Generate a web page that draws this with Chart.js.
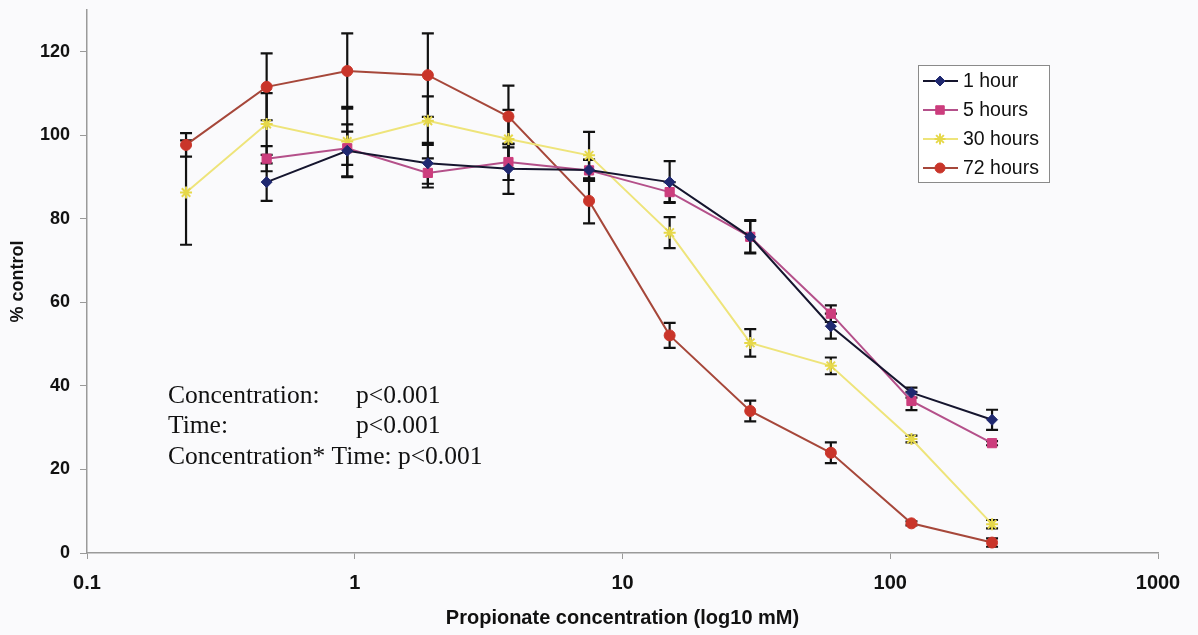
<!DOCTYPE html>
<html>
<head>
<meta charset="utf-8">
<script src="https://cdn.jsdelivr.net/npm/chart.js@4/dist/chart.umd.min.js"></script>
<style>
  html,body{margin:0;padding:0;background:#fafafc;}
  #wrap{width:1198px;height:635px;position:relative;}
</style>
</head>
<body>
<div id="wrap"><canvas id="c" width="1198" height="635"></canvas></div>
<script>
// ---- data ----
const concentrations = [0.234375, 0.46875, 0.9375, 1.875, 3.75, 7.5, 15, 30, 60, 120, 240];
const xTickValues = [0.1, 1, 10, 100, 1000];
const xTickLabels = ["0.1", "1", "10", "100", "1000"];
const yTickValues = [0, 20, 40, 60, 80, 100, 120];
const seriesNames = ["1 hour", "5 hours", "30 hours", "72 hours"];
const hour1 =    [null, 88.8, 96.3, 93.3, 92.0, 91.7, 88.8, 75.7, 54.3, 38.4, 31.9];
const hour1Err = [null, 4.5, 6.3, 4.9, 6.0, 2.5, 5.0, 4.0, 3.0, 1.2, 2.4];
const hours5 =    [null, 94.4, 96.9, 91.0, 93.6, 91.6, 86.4, 75.7, 57.3, 36.4, 26.3];
const hours5Err = [null, 3.0, 4.0, 3.5, 4.3, 2.5, 2.4, 3.8, 2.0, 2.2, 0.5];
const hours30 =    [86.3, 102.7, 98.5, 103.5, 99.1, 95.2, 76.7, 50.3, 44.8, 27.3, 6.9];
const hours30Err = [12.5, 7.4, 8.3, 5.8, 7.0, 5.6, 3.7, 3.3, 2.0, 0.8, 1.0];
const hours72 =    [97.7, 111.6, 115.4, 114.4, 104.5, 84.3, 52.1, 34.0, 24.0, 7.1, 2.5];
const hours72Err = [2.8, 8.0, 9.0, 10.0, 7.4, 5.4, 3.0, 2.5, 2.5, 0.5, 1.0];
const statLines = [
  ["Concentration:", "p<0.001"],
  ["Time:", "p<0.001"],
  ["Concentration* Time: p<0.001", ""]
];

const styles = [
  {line:'#15152e', fill:'#1f2870', ps:'rectRot', r:5.5},
  {line:'#b4508a', fill:'#cc3d7d', ps:'rect', r:6.5},
  {line:'#eee47a', fill:'#e6d84a', ps:'star', r:6},
  {line:'#a6473a', fill:'#c9352a', ps:'circle', r:5.5}
];
const values = [hour1, hours5, hours30, hours72];
const errors = [hour1Err, hours5Err, hours30Err, hours72Err];

const datasets = values.map((v,k)=>({
  label: seriesNames[k],
  data: concentrations.map((c,i)=>({x:c, y:v[i], e:errors[k][i]})).filter(p=>p.y!==null),
  borderColor: styles[k].line,
  backgroundColor: styles[k].fill,
  pointBackgroundColor: styles[k].fill,
  pointBorderColor: styles[k].fill,
  pointBorderWidth: styles[k].ps==='star' ? 2 : 1,
  pointStyle: styles[k].ps,
  pointRadius: styles[k].r,
  borderWidth: 2,
  tension: 0,
  fill: false
}));

const errorBars = {
  id:'errorBars',
  beforeDatasetsDraw(chart){
    const ctx = chart.ctx, xs = chart.scales.x, ys = chart.scales.y;
    ctx.save();
    ctx.strokeStyle = '#111';
    ctx.lineWidth = 2.2;
    chart.data.datasets.forEach(ds=>{
      ds.data.forEach(p=>{
        if(p.e==null) return;
        const x = xs.getPixelForValue(p.x);
        const y1 = ys.getPixelForValue(p.y + p.e);
        const y2 = ys.getPixelForValue(p.y - p.e);
        ctx.beginPath();
        ctx.moveTo(x, y1); ctx.lineTo(x, y2);
        ctx.moveTo(x-6, y1); ctx.lineTo(x+6, y1);
        ctx.moveTo(x-6, y2); ctx.lineTo(x+6, y2);
        ctx.stroke();
      });
    });
    ctx.restore();
  }
};

const customLegend = {
  id:'customLegend',
  afterDraw(chart){
    const ctx = chart.ctx;
    ctx.save();
    const bx = 918, by = 65, bw = 131, bh = 117;
    ctx.fillStyle = '#ffffff';
    ctx.fillRect(bx, by, bw, bh);
    ctx.strokeStyle = '#8a8a8a';
    ctx.lineWidth = 1;
    ctx.strokeRect(bx+0.5, by+0.5, bw, bh);
    ctx.font = '19.5px "Liberation Sans", Arial, sans-serif';
    ctx.textBaseline = 'middle';
    chart.data.datasets.forEach((ds,i)=>{
      const y = 81 + i*29;
      ctx.strokeStyle = ds.borderColor;
      ctx.lineWidth = 2;
      ctx.beginPath(); ctx.moveTo(923, y); ctx.lineTo(958, y); ctx.stroke();
      ctx.fillStyle = ds.pointBackgroundColor;
      ctx.strokeStyle = ds.pointBorderColor;
      ctx.lineWidth = ds.pointBorderWidth;
      Chart.helpers.drawPoint(ctx, {pointStyle: ds.pointStyle, radius: ds.pointRadius - 0.5, rotation: 0, borderWidth: ds.pointBorderWidth}, 940, y);
      ctx.fillStyle = '#111';
      ctx.fillText(ds.label, 963, y+1);
    });
    ctx.restore();
  }
};

const stats = {
  id:'stats',
  afterDraw(chart){
    const ctx = chart.ctx;
    ctx.save();
    ctx.font = '25.5px "Liberation Serif", "Times New Roman", serif';
    ctx.fillStyle = '#111';
    ctx.textBaseline = 'middle';
    statLines.forEach((l,i)=>{
      const y = 396 + i*30.5;
      ctx.fillText(l[0], 168, y);
      if(l[1]) ctx.fillText(l[1], 356, y);
    });
    ctx.restore();
  }
};

new Chart(document.getElementById('c'), {
  type:'line',
  data:{datasets},
  plugins:[errorBars, customLegend, stats],
  options:{
    responsive:false,
    animation:false,
    layout:{padding:{left:0, right:40, top:10, bottom:0}},
    plugins:{legend:{display:false}, tooltip:{enabled:false}},
    scales:{
      x:{
        type:'logarithmic', min:0.1, max:1000,
        afterBuildTicks(s){ s.ticks = xTickValues.map(v=>({value:v})); },
        afterFit(s){ s.height = 82; },
        ticks:{
          callback:(v)=>{ const i = xTickValues.indexOf(v); return i>=0 ? xTickLabels[i] : ''; },
          autoSkip:false, maxRotation:0, padding:12,
          color:'#111', font:{family:'"Liberation Sans", Arial', size:20, weight:'bold'}
        },
        grid:{drawOnChartArea:false, drawTicks:true, tickLength:6, color:'#9a9a9a'},
        border:{display:true, color:'#9a9a9a', width:1.5},
        title:{display:true, text:'Propionate concentration (log10 mM)', color:'#111',
          font:{family:'"Liberation Sans", Arial', size:20, weight:'bold'},
          padding:{top:0, bottom:5}}
      },
      y:{
        type:'linear', min:0, max:130,
        afterBuildTicks(s){ s.ticks = yTickValues.map(v=>({value:v})); },
        afterFit(s){ s.width = 87; s.paddingTop = 0; s.paddingBottom = 0; },
        ticks:{ padding:10, color:'#111', font:{family:'"Liberation Sans", Arial', size:18, weight:'bold'} },
        grid:{drawOnChartArea:false, drawTicks:true, tickLength:7, color:'#9a9a9a'},
        border:{display:true, color:'#9a9a9a', width:1.5},
        title:{display:true, text:'% control', color:'#111',
          font:{family:'"Liberation Sans", Arial', size:18, weight:'bold'},
          padding:{top:7, bottom:0}}
      }
    }
  }
});
</script>
</body>
</html>
